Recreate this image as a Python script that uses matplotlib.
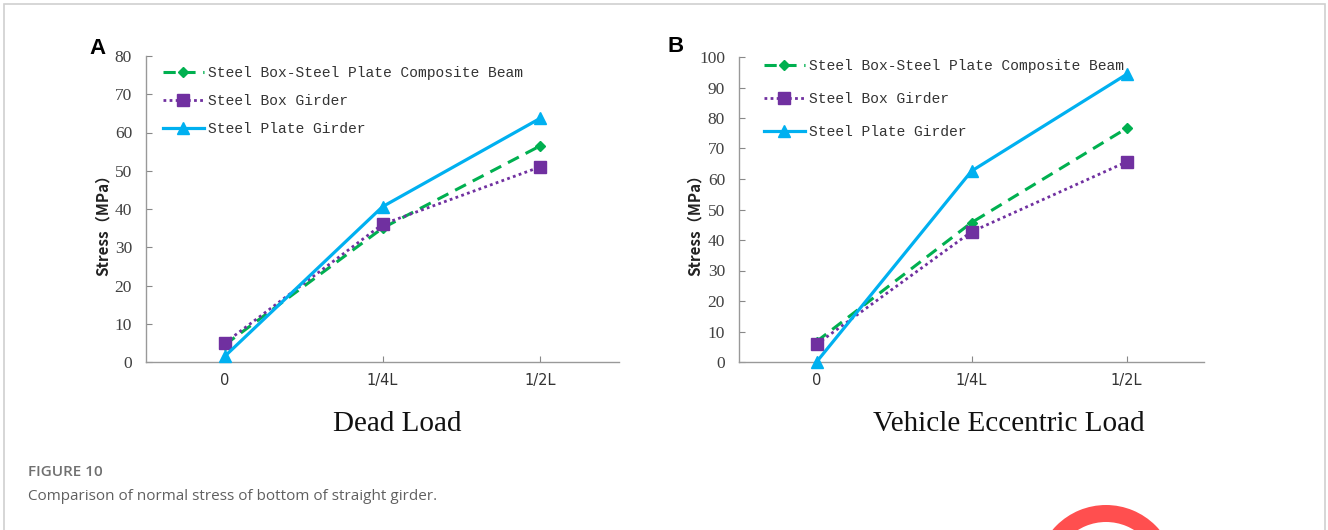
import numpy as np
import matplotlib
matplotlib.use('Agg')
import matplotlib.pyplot as plt
from matplotlib.patches import Wedge, Rectangle

# positions along the girder
positions = ['0', '1/4L', '1/2L']
series_names = ['Steel Box-Steel Plate Composite Beam', 'Steel Box Girder', 'Steel Plate Girder']

# stress (MPa) under dead load
dead_composite = [4.5, 35.0, 56.5]
dead_box = [5.0, 36.0, 51.0]
dead_plate = [1.5, 40.6, 63.7]

# stress (MPa) under vehicle eccentric load
ecc_composite = [6.7, 45.7, 76.6]
ecc_box = [5.8, 42.7, 65.6]
ecc_plate = [0.0, 62.6, 94.3]

W, H = 1328, 530
fig = plt.figure(figsize=(W / 100, H / 100), dpi=100)


def fx(px):
    return px / W


def fy(py):
    return 1 - py / H


styles = [
    dict(color='#00B050', ls=(0, (4, 2.5)), lw=2.2, marker='D', ms=5),
    dict(color='#7030A0', ls=(0, (1, 1.2)), lw=2.0, marker='s', ms=8),
    dict(color='#00B0F0', ls='-', lw=2.3, marker='^', ms=8),
]


def draw_panel(box, data, ymax, title, title_x, letter, letter_xy, ylabel_x, legend_xy, spacing):
    x0, y0, x1, y1 = box
    ax = fig.add_axes([fx(x0), fy(y1), fx(x1 - x0), (y1 - y0) / H])
    x = np.arange(len(positions))
    for vals, name, st in zip(data, series_names, styles):
        ax.plot(x, vals, color=st['color'], linestyle=st['ls'], linewidth=st['lw'],
                marker=st['marker'], markersize=st['ms'], markerfacecolor=st['color'],
                markeredgecolor=st['color'], label=name, clip_on=False, zorder=3)
    ax.set_xlim(-0.5, 2.5)
    ax.set_ylim(0, ymax)
    ax.set_yticks(np.arange(0, ymax + 1, 10))
    ax.set_xticks(x)
    ax.set_xticklabels(positions, fontsize=10.5, color='#333333', family='DejaVu Sans')
    for lab in ax.get_yticklabels():
        lab.set_family('Liberation Serif')
        lab.set_fontsize(12.5)
        lab.set_color('#404040')
    ax.tick_params(axis='both', direction='in', length=4, width=0.8, color='#888888')
    ax.tick_params(axis='y', pad=10)
    ax.tick_params(axis='x', pad=8)
    for s in ['top', 'right']:
        ax.spines[s].set_visible(False)
    for s in ['left', 'bottom']:
        ax.spines[s].set_color('#999999')
        ax.spines[s].set_linewidth(1.0)

    fig.text(fx(ylabel_x), fy(221), 'Stress（MPa）', rotation=90,
             ha='center', va='center', fontsize=11, fontweight='bold', color='#222222',
             family=['Noto Sans CJK SC', 'DejaVu Sans'])
    fig.text(fx(title_x), fy(424), title, ha='center', va='center',
             fontsize=21, family='Liberation Serif', color='#111111')
    fig.text(fx(letter_xy[0]), fy(letter_xy[1]), letter, ha='center', va='center',
             fontsize=16, fontweight='bold', family='Liberation Sans', color='black')

    ax.legend(loc='upper left', bbox_to_anchor=(fx(legend_xy[0]), fy(legend_xy[1])),
              bbox_transform=fig.transFigure, frameon=False, borderpad=0,
              borderaxespad=0, handlelength=2.8, handletextpad=0.3,
              labelspacing=spacing, prop=dict(family='Liberation Mono', size=10.5),
              labelcolor='#333333')
    return ax


draw_panel((146, 56, 619, 362), [dead_composite, dead_box, dead_plate], 80,
           'Dead Load', 397, 'A', (97, 48), 103, (163, 66), 0.95)
draw_panel((739, 57, 1204, 362), [ecc_composite, ecc_box, ecc_plate], 100,
           'Vehicle Eccentric Load', 1009, 'B', (676, 46), 695, (764, 59), 1.32)

# caption
fig.text(fx(28), fy(472), 'FIGURE 10', ha='left', va='center', fontsize=11,
         fontweight='semibold', family='Open Sans', color='#707070')
fig.text(fx(28), fy(497), 'Comparison of normal stress of bottom of straight girder.',
         ha='left', va='center', fontsize=11, family='Open Sans', color='#606060')

# card border
fig.add_artist(Rectangle((fx(4), -0.1), fx(1321), fy(4) + 0.1, transform=fig.transFigure,
                         fill=False, edgecolor='#d0d0d0', linewidth=1.2))

# red ring decoration in the lower right
ring = Wedge((1106, H - 575), 70, 0, 360, width=17, transform=None,
             facecolor='#FF4F4F', edgecolor='none')
fig.add_artist(ring)

fig.savefig('out.png', dpi=100)
